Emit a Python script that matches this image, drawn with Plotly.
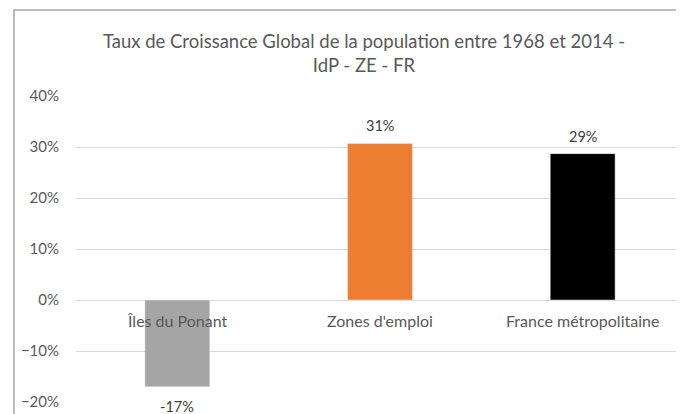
import plotly.graph_objects as go

categories = ["Îles du Ponant", "Zones d'emploi", "France métropolitaine"]
values = [-0.17, 0.307, 0.287]
labels = ["-17%", "31%", "29%"]
colors = ["#A5A5A5", "#ED7D31", "#000000"]

font_name = "Lato, sans-serif"

# the page body has an 8px margin, so everything is offset by 8px here
fig = go.Figure(go.Bar(
    x=categories,
    y=values,
    marker_color=colors,
    hoverinfo="skip",
))

# category labels sit right under the zero line, like in Excel
annotations = [dict(
    x=c, y=0, xref="x", yref="y",
    text=c, showarrow=False, yanchor="top", yshift=-9,
    font=dict(size=16, color="#595959", family=font_name),
) for c in categories]

# value labels, a bit away from the bar ends
for c, v, t in zip(categories, values, labels):
    annotations.append(dict(
        x=c, y=v, xref="x", yref="y", text=t, showarrow=False,
        yanchor="bottom" if v >= 0 else "top",
        yshift=7 if v >= 0 else -9,
        font=dict(size=14.5, color="#404040", family=font_name),
    ))

fig.update_layout(
    width=684, height=414,
    margin=dict(l=68, r=8, t=88, b=20),
    paper_bgcolor="white", plot_bgcolor="white",
    showlegend=False,
    bargap=0.68,
    title=dict(
        text="Taux de Croissance Global de la population entre 1968 et 2014 -<br>IdP - ZE - FR",
        x=356 / 684, xref="container", xanchor="center",
        y=1 - 40 / 414, yref="container", yanchor="top",
        font=dict(size=18.5, color="#595959", family=font_name),
    ),
    xaxis=dict(showticklabels=False, showgrid=False, zeroline=False, showline=False),
    yaxis=dict(
        range=[-0.2, 0.4], dtick=0.1, tickformat=".0%",
        gridcolor="#D9D9D9", zeroline=True, zerolinecolor="#D9D9D9", zerolinewidth=1,
        showline=False, ticks="", ticklabelstandoff=16,
        tickfont=dict(size=15, color="#595959", family=font_name),
    ),
    annotations=annotations,
    shapes=[dict(
        type="path", xref="paper", yref="paper",
        path="M -0.102 -0.2 L -0.102 1.281 L 1.1 1.281",
        line=dict(color="#A6A6A6", width=1.5),
    )],
)

fig.write_html("out.html")
